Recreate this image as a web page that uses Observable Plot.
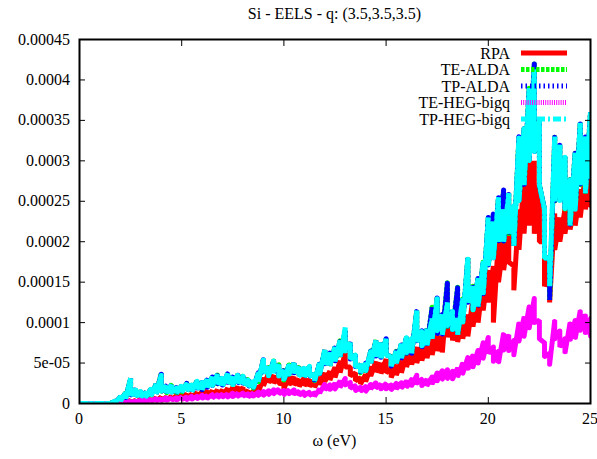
<!DOCTYPE html>
<html><head><meta charset="utf-8">
<script src="https://cdn.jsdelivr.net/npm/d3@7"></script>
<script src="https://cdn.jsdelivr.net/npm/@observablehq/plot@0.6"></script>
<style>
body{margin:0;background:#fff;}
#wrap{position:relative;width:597px;height:459px;}
#title{margin-left:79px;width:511px;height:28px;line-height:28px;text-align:center;font-size:16px;color:#000;font-family:'Liberation Serif';}
#overlay{position:absolute;left:0;top:0;pointer-events:none;}
</style></head><body>
<div id="wrap"><div id="title">Si - EELS - q: (3.5,3.5,3.5)</div></div>
<script>
const FONT = "Liberation Serif";
const TITLE_H = 28;
// energies (eV) sampled every 0.25 eV
const omega = d3.range(0, 101).map(i => i / 4);

// values in units of 1e-5 ; hi = upper edge of oscillating trace, lo = lower edge
const rpaHi = [
0,0,0,0,0,0,0,0,0.2,0.3,0.4,0.4,0.5,0.5,0.6,0.7,
0.8,0.8,0.9,1.0, 1.1,1.2,1.2,1.4,
1.5,1.6,1.6,1.7, 1.7,1.9,2.0,2.1,
2.0,1.6,1.5,2.2, 3.2,3.7,3.5,3.6,
2.4,3.4,3.3,3.0, 3.2,3.0,2.9,3.3,
3.8,4.0,4.5,5.3, 6.3,4.5,3.8,3.2,
3.6,4.6,5.2,5.0, 5.5,4.3,4.8,5.3,
6.2,6.6,7.0,7.2, 7.5,8.3,8.8,8.3,
14.0,10.5,10.3,10.8, 11.0,13.0,13.8,15.5,
16.5,17.0,20.5,20.0, 21.0,17.0,24.0,28.0,
31.5,30.0,27.0,20.0, 16.0,23.5,23.0,24.0,
25.0,24.5,26.5,28.5, 28.0];
const rpaLo = [
0,0,0,0,0,0,0,0,0.05,0.1,0.1,0.15,0.2,0.2,0.25,0.3,
0.35,0.35,0.4,0.45, 0.5,0.55,0.6,0.65,
0.7,0.8,0.8,0.9, 0.9,1.0,1.1,1.2,
1.1,0.9,0.9,1.4, 2.2,2.6,2.5,2.5,
1.8,2.3,2.3,2.1, 2.2,2.1,2.0,2.3,
2.7,2.9,3.2,3.8, 4.5,3.4,2.8,2.4,
2.7,3.4,3.9,3.7, 3.8,3.2,3.5,3.8,
4.5,4.8,5.0,5.3, 5.6,6.0,6.5,6.3,
8.2,7.8,7.6,8.0, 8.3,9.5,10.0,11.5,
12.5,10.0,15.0,16.5, 17.5,14.0,19.0,21.0,
22.0,21.0,20.0,14.5, 12.5,19.0,20.0,21.0,
21.5,22.0,23.0,24.0, 24.5];

const tpAldaHi = [
0,0,0,0,0,0,0,0.3,0.8,1.3,3.1,1.8,1.5,1.4,1.8,2.4,
3.7,2.2,2.3,2.0, 2.2,2.5,2.3,2.8,
2.6,3.0,3.3,3.6, 3.2,3.7,3.3,3.6,
3.4,3.0,2.7,3.8, 5.5,4.5,5.3,4.8,
4.1,4.8,5.0,4.5, 4.4,4.6,3.6,5.0,
6.6,6.3,7.0,7.8, 9.0,7.5,6.0,4.8,
5.0,6.5,7.8,7.5, 8.0,5.8,6.5,7.4,
8.2,8.0,11.5,9.0, 9.2,11.9,13.1,11.0,
15.0,11.5,14.4,13.0, 18.0,14.5,15.5,17.5,
23.0,23.5,25.5,26.4, 26.0,24.5,33.0,34.0,
39.0,42.0,35.0,24.0, 18.0,33.0,32.0,30.5,
27.7,31.0,34.7,33.0, 36.0];
const tpAldaLo = [
0,0,0,0,0,0,0,0.1,0.3,0.6,1.0,0.9,0.8,0.8,1.0,1.2,
1.5,1.3,1.4,1.3, 1.4,1.6,1.5,1.8,
1.7,2.0,2.2,2.4, 2.2,2.5,2.3,2.5,
2.4,2.1,1.9,2.7, 3.8,3.4,3.9,3.4,
2.9,3.6,3.8,3.4, 3.3,3.4,2.8,3.7,
4.8,4.7,5.2,5.8, 6.5,5.5,4.5,3.8,
4.0,5.0,5.8,5.6, 6.0,4.6,5.0,5.6,
6.2,6.2,7.6,7.0, 7.2,8.0,8.5,8.5,
9.5,9.0,8.5,10.0, 12.5,11.5,12.0,13.5,
17.0,18.0,20.0,20.0, 21.0,19.5,25.0,27.0,
30.0,31.0,27.0,18.0, 12.8,25.0,25.0,24.0,
22.0,24.0,27.0,26.0, 28.0];

// TE-ALDA lies under TP-ALDA everywhere it can be seen
const teAldaHi = tpAldaHi.slice();
const teAldaLo = tpAldaLo.slice();

const teHegHi = [
0,0,0,0,0,0,0,0,0.1,0.2,0.3,0.3,0.4,0.5,0.5,0.6,
0.6,0.7,0.7,0.7, 0.8,0.8,0.9,0.9,
1.0,1.0,1.1,1.1, 1.2,1.2,1.3,1.3,
1.3,1.2,1.3,1.4, 1.5,1.6,1.7,1.8,
1.6,1.7,1.7,1.5, 1.5,1.4,1.3,1.8,
2.4,2.3,2.5,2.8, 3.1,2.6,2.2,2.0,
2.1,2.4,2.6,2.4, 2.5,2.3,2.5,2.6,
2.8,3.0,3.5,3.0, 3.0,3.3,3.8,4.1,
4.2,4.0,4.4,5.0, 5.7,6.0,6.6,7.5,
8.2,7.0,6.5,8.7, 8.5,7.8,10.0,10.7,
12.0,13.0,10.3,7.5, 6.2,10.3,9.0,8.0,
10.0,10.3,11.5,11.0, 10.5];
const teHegLo = [
0,0,0,0,0,0,0,0,0,0.1,0.15,0.2,0.2,0.3,0.3,0.35,
0.4,0.4,0.45,0.45, 0.5,0.5,0.55,0.6,
0.65,0.65,0.7,0.7, 0.8,0.8,0.85,0.9,
0.9,0.8,0.9,1.0, 1.0,1.1,1.2,1.2,
1.1,1.2,1.2,1.0, 1.0,1.0,0.9,1.3,
1.7,1.7,1.8,2.0, 2.3,1.9,1.6,1.5,
1.5,1.8,1.9,1.8, 1.8,1.7,1.8,1.9,
2.0,2.2,2.5,2.2, 2.2,2.4,2.8,3.0,
3.1,3.0,3.3,3.7, 4.2,4.5,5.0,5.6,
6.2,5.2,5.0,6.6, 6.5,6.0,7.7,8.3,
9.3,10.0,8.0,5.8, 4.8,8.0,7.0,6.2,
7.8,8.0,9.0,8.6, 8.2];

const tpHegHi = [
0,0,0,0,0,0,0,0.3,0.8,1.3,3.1,1.8,1.5,1.4,1.8,2.4,
3.5,2.2,2.3,2.0, 2.2,2.5,2.3,2.8,
2.6,3.0,3.3,3.6, 3.2,3.7,3.3,3.6,
3.4,3.0,2.7,3.8, 5.5,4.5,5.3,4.8,
4.1,4.8,5.0,4.5, 4.4,4.6,3.6,5.0,
6.6,6.3,7.0,7.8, 9.4,7.5,6.0,4.8,
5.0,6.5,7.8,7.5, 8.0,5.8,6.5,7.4,
8.2,8.0,11.5,9.0, 9.2,10.5,13.1,11.0,
12.5,11.5,10.5,13.0, 18.0,14.5,15.5,17.5,
23.0,22.5,25.5,24.0, 26.0,24.5,33.0,34.0,
39.0,41.3,35.0,24.0, 18.0,33.0,32.0,30.5,
27.7,31.0,34.7,33.0, 36.0];
const tpHegLo = [
0,0,0,0,0,0,0,0.1,0.3,0.6,1.0,0.9,0.8,0.8,1.0,1.2,
1.5,1.3,1.4,1.3, 1.4,1.6,1.5,1.8,
1.7,2.0,2.2,2.4, 2.2,2.5,2.3,2.5,
2.4,2.1,1.9,2.7, 3.8,3.4,3.9,3.4,
2.9,3.6,3.8,3.4, 3.3,3.4,2.8,3.7,
4.8,4.7,5.2,5.8, 6.5,5.5,4.5,3.8,
4.0,5.0,5.8,5.6, 6.0,4.6,5.0,5.6,
6.2,6.2,7.6,7.0, 7.2,8.0,9.0,8.5,
9.5,9.0,8.5,10.0, 12.5,11.5,12.0,13.5,
17.0,18.0,20.0,20.0, 21.0,19.5,25.0,27.0,
30.0,31.0,27.0,18.0, 14.5,25.0,25.0,24.0,
22.0,24.0,27.0,26.0, 28.0];

const seriesNames = ["RPA", "TE-ALDA", "TP-ALDA", "TE-HEG-bigq", "TP-HEG-bigq"];
const seriesColors = ["#ff0000", "#00ff00", "#0000ff", "#ff00ff", "#00ffff"];
const seriesDash = [null, "3.5,1.5", "1.5,3", "1,1.2", "8,3,2,3"];
const seriesHi = [rpaHi, teAldaHi, tpAldaHi, teHegHi, tpHegHi];
const seriesLo = [rpaLo, teAldaLo, tpAldaLo, teHegLo, tpHegLo];

const xTickValues = [0, 5, 10, 15, 20, 25];
const xTickLabels = ["0", "5", "10", "15", "20", "25"];
const yTickValues = [0, 0.00005, 0.0001, 0.00015, 0.0002, 0.00025, 0.0003, 0.00035, 0.0004, 0.00045];
const yTickLabels = ["0", "5e-05", "0.0001", "0.00015", "0.0002", "0.00025", "0.0003", "0.00035", "0.0004", "0.00045"];
const xTitle = "ω (eV)";

const lineMarks = seriesNames.map((name, s) => {
  const pts = [];
  omega.forEach((w, i) => {
    pts.push({x: w, y: seriesHi[s][i] * 1e-5});
    pts.push({x: w, y: seriesLo[s][i] * 1e-5});
  });
  return Plot.line(pts, {x: "x", y: "y", stroke: seriesColors[s], strokeWidth: 5,
    strokeDasharray: seriesDash[s] || undefined, strokeLinejoin: "miter", clip: true});
});

const blank = () => "";
const chart = Plot.plot({
  width: 597, height: 431,
  marginTop: 11, marginBottom: 56, marginLeft: 79, marginRight: 7,
  style: {background: "#fff", color: "#000"},
  x: {domain: [0, 25]},
  y: {domain: [0, 0.00045]},
  marks: [
    ...lineMarks,
    // inward tick marks on all four sides (gnuplot style)
    Plot.axisY({ticks: yTickValues, tickFormat: blank, tickSize: 6, dx: 6, label: null}),
    Plot.axisY({anchor: "right", ticks: yTickValues, tickFormat: blank, tickSize: 6, dx: -6, label: null}),
    Plot.axisX({ticks: xTickValues, tickFormat: blank, tickSize: 6, dy: -6, label: null}),
    Plot.axisX({anchor: "top", ticks: xTickValues, tickFormat: blank, tickSize: 6, dy: 6, label: null}),
    Plot.frame({stroke: "#000", strokeWidth: 2})
  ]
});
document.getElementById("wrap").appendChild(chart);

// tick labels, axis title and key in a serif overlay, placed with the chart's own scales
const sx = chart.scale("x"), sy = chart.scale("y");
const ov = d3.select("#wrap").append("svg").attr("id", "overlay").attr("width", 597).attr("height", 459);
const txt = (x, y, s, anchor) => ov.append("text").attr("x", x).attr("y", y).attr("dy", "0.35em")
  .attr("text-anchor", anchor).attr("font-family", FONT).attr("font-size", 16).attr("fill", "#000").text(s);

const frameLeft = sx.apply(0), frameRight = sx.apply(25), frameBottom = TITLE_H + sy.apply(0);
yTickValues.forEach((v, i) => txt(frameLeft - 9, TITLE_H + sy.apply(v), yTickLabels[i], "end"));
xTickValues.forEach((v, i) => txt(sx.apply(v), frameBottom + 15, xTickLabels[i], "middle"));
txt((frameLeft + frameRight) / 2, frameBottom + 37, xTitle, "middle");

seriesNames.forEach((name, s) => {
  const y = 53 + s * 16.5;
  txt(510, y, name, "end");
  const ln = ov.append("line").attr("x1", 521).attr("x2", 567).attr("y1", y).attr("y2", y)
    .attr("stroke", seriesColors[s]).attr("stroke-width", 5);
  if (seriesDash[s]) ln.attr("stroke-dasharray", seriesDash[s]);
});
</script>
</body></html>
